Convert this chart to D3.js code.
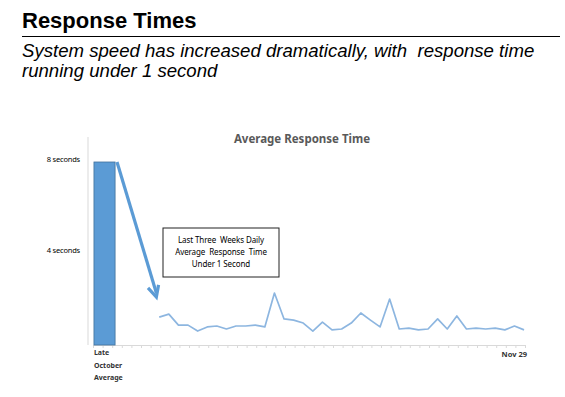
<!DOCTYPE html>
<html>
<head>
<meta charset="utf-8">
<script src="https://cdn.jsdelivr.net/npm/d3@7"></script>
<style>
  body { margin: 0; background: #fff; }
  svg { display: block; }
</style>
</head>
<body>
<div id="chart"></div>
<script>
(function() {
    const width = 565,
          height = 397;

    // late October average (seconds)
    const octoberLabel = ['Late', 'October', 'Average'];
    const octoberAverage = 8;

    // daily averages for the last weeks (seconds)
    const dailyTimes = [1.22, 1.35, 0.87, 0.87, 0.61, 0.79, 0.83, 0.70, 0.83, 0.83,
                        0.87, 0.79, 2.27, 1.14, 1.09, 0.96, 0.61, 1.00, 0.66, 0.70,
                        0.96, 1.40, 1.09, 0.79, 2.01, 0.70, 0.74, 0.66, 0.70, 1.14,
                        0.70, 1.27, 0.70, 0.74, 0.70, 0.74, 0.66, 0.83, 0.66];
    const lastDayLabel = 'Nov 29';

    const yTicks = [4, 8];
    const yTickLabels = ['4 seconds', '8 seconds'];

    const slotCount = 45,
          firstDaySlot = 6;

    const svg = d3.select('#chart')
      .append('svg')
      .attr('width', width)
      .attr('height', height);

    // header
    svg.append('text')
      .attr('x', 22).attr('y', 28)
      .style('font-family', '"Liberation Sans", Arial, sans-serif')
      .style('font-weight', 'bold')
      .style('font-size', '22px')
      .attr('fill', '#000')
      .text('Response Times');

    svg.append('line')
      .attr('x1', 22).attr('x2', 560)
      .attr('y1', 36.5).attr('y2', 36.5)
      .attr('stroke', '#000')
      .attr('stroke-width', 1.2);

    const sub = svg.append('text')
      .style('font-family', '"Liberation Sans", Arial, sans-serif')
      .style('font-style', 'italic')
      .style('font-size', '18.6px')
      .attr('fill', '#000');
    sub.append('tspan').attr('x', 22).attr('y', 57)
      .attr('xml:space', 'preserve')
      .text('System speed has increased dramatically, with  response time');
    sub.append('tspan').attr('x', 22).attr('y', 77)
      .text('running under 1 second');

    // chart
    const x = d3.scaleLinear()
      .domain([0, slotCount])
      .range([93, 525]);

    const y = d3.scaleLinear()
      .domain([0, 8])
      .range([345, 162]);

    const chartFont = '"Noto Sans", "Liberation Sans", sans-serif';

    svg.append('text')
      .attr('x', 302).attr('y', 143)
      .attr('text-anchor', 'middle')
      .style('font-family', chartFont)
      .style('font-weight', 'bold')
      .style('font-size', '11.5px')
      .attr('fill', '#595959')
      .text('Average Response  Time');

    // axes
    svg.append('line')
      .attr('x1', 88).attr('x2', 88)
      .attr('y1', 137).attr('y2', y(0))
      .attr('stroke', '#d9d9d9');

    const xAxis = d3.axisBottom(x)
      .tickValues(d3.range(0, slotCount + 1))
      .tickSize(3)
      .tickFormat('');

    const gx = svg.append('g')
      .attr('transform', `translate(0,${y(0)})`)
      .call(xAxis);
    gx.select('.domain').attr('stroke', '#d9d9d9');
    gx.selectAll('.tick line').attr('stroke', '#d9d9d9');

    svg.selectAll('.ylab')
      .data(yTicks)
      .enter().append('text')
        .attr('class', 'ylab')
        .attr('x', 80)
        .attr('y', d => y(d) - 3)
        .attr('dy', '0.35em')
        .attr('text-anchor', 'end')
        .style('font-family', chartFont)
        .style('font-size', '7.5px')
        .style('letter-spacing', '-0.2px')
        .attr('fill', '#000')
        .text((d, i) => yTickLabels[i]);

    // October bar
    svg.append('rect')
      .attr('x', x(0.1))
      .attr('y', y(octoberAverage))
      .attr('width', x(2.3) - x(0.1))
      .attr('height', y(0) - y(octoberAverage))
      .attr('fill', '#5b9bd5')
      .attr('stroke', '#41719c')
      .attr('stroke-width', 0.8);

    // daily line
    const line = d3.line()
      .x((d, i) => x(firstDaySlot + i + 0.9))
      .y(d => y(d));

    svg.append('path')
      .datum(dailyTimes)
      .attr('d', line)
      .attr('fill', 'none')
      .attr('stroke', '#8db6e0')
      .attr('stroke-width', 1.7)
      .attr('stroke-linejoin', 'round');

    // x labels
    const xl = svg.append('text')
      .style('font-family', chartFont)
      .style('font-size', '7px')
      .style('font-weight', 'bold')
      .attr('fill', '#333');
    octoberLabel.forEach((t, i) => {
      xl.append('tspan').attr('x', x(0.1)).attr('y', 355 + i * 12.5).text(t);
    });

    svg.append('text')
      .attr('x', x(firstDaySlot + dailyTimes.length - 1 + 0.9) + 3)
      .attr('y', 357)
      .attr('text-anchor', 'end')
      .style('font-family', chartFont)
      .style('font-size', '7.5px')
      .style('font-weight', 'bold')
      .attr('fill', '#333')
      .text(lastDayLabel);

    // arrow from bar to daily values
    const ax1 = x(2.5), ay1 = y(octoberAverage),
          ax2 = x(firstDaySlot + 0.6), ay2 = y(2.1);
    svg.append('line')
      .attr('x1', ax1).attr('y1', ay1)
      .attr('x2', ax2).attr('y2', ay2 - 4)
      .attr('stroke', '#5b9bd5')
      .attr('stroke-width', 3.2);
    const ang = Math.atan2(ay2 - ay1, ax2 - ax1);
    const head = [[-11, -5.5], [0, 0], [-11, 5.5]].map(([px, py]) => [
      ax2 + px * Math.cos(ang) - py * Math.sin(ang),
      ay2 + px * Math.sin(ang) + py * Math.cos(ang)
    ]);
    svg.append('path')
      .attr('d', d3.line()(head))
      .attr('fill', 'none')
      .attr('stroke', '#5b9bd5')
      .attr('stroke-width', 3.2)
      .attr('stroke-linejoin', 'miter');

    // note box
    svg.append('rect')
      .attr('x', 163).attr('y', 228)
      .attr('width', 116).attr('height', 49)
      .attr('fill', '#fff')
      .attr('stroke', '#222')
      .attr('stroke-width', 1);

    const note = svg.append('text')
      .attr('text-anchor', 'middle')
      .style('font-family', chartFont)
      .style('font-size', '8px')
      .style('letter-spacing', '-0.1px')
      .attr('fill', '#000');
    ['Last Three  Weeks Daily', 'Average  Response  Time', 'Under 1 Second'].forEach((t, i) => {
      note.append('tspan')
        .attr('x', 221).attr('y', 243 + i * 12)
        .attr('xml:space', 'preserve')
        .text(t);
    });
})();
</script>
</body>
</html>
